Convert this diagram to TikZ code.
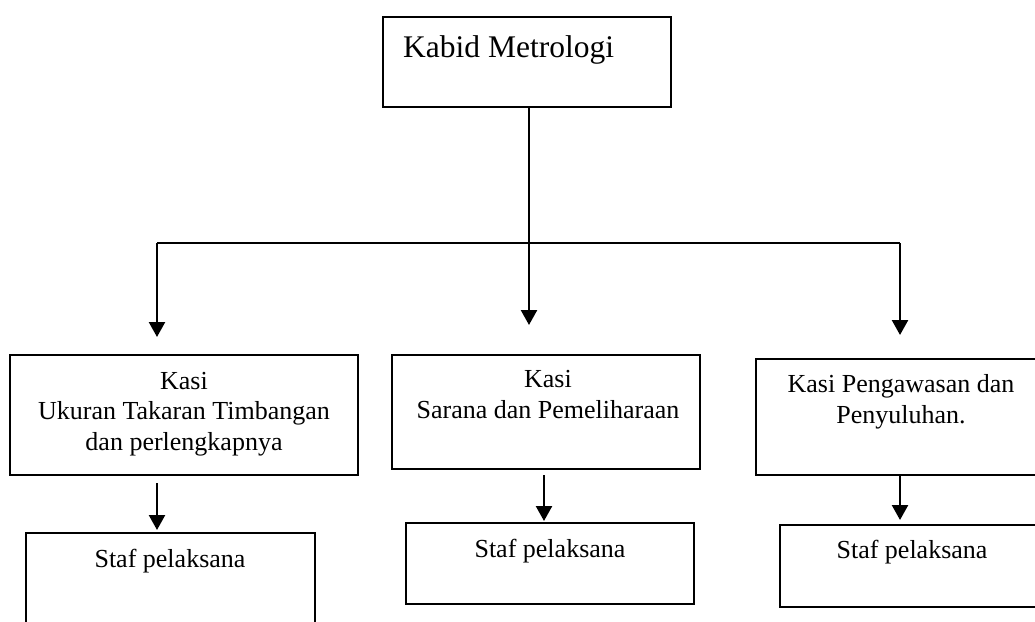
\documentclass[tikz,border=0pt]{standalone}
\usepackage{fontspec}
\setmainfont{Liberation Serif}
\usetikzlibrary{arrows.meta,calc}
\begin{document}
\begin{tikzpicture}[x=1pt,y=-1pt,
  box/.style={draw=black, line width=2pt, inner sep=0pt, outer sep=0pt, anchor=north west},
  lbl/.style={anchor=base, align=center, inner sep=0pt, font=\fontsize{26}{30.5}\selectfont},
  conn/.style={line width=2.4pt},
  arr/.style={line width=2.4pt, -{Triangle[length=15pt,width=16pt]}}]
\useasboundingbox (0,0) rectangle (1035,621);
\clip (0,0) rectangle (1035,621);
% boxes
\node[box, minimum width=288pt, minimum height=90pt] (top) at (383,17) {};
\node[box, minimum width=348pt, minimum height=120pt] (kasiL) at (10,355) {};
\node[box, minimum width=308pt, minimum height=114pt] (kasiM) at (392,355) {};
\node[box, minimum width=300pt, minimum height=116pt] (kasiR) at (756,359) {};
\node[box, minimum width=289pt, minimum height=110pt] (stafL) at (26,533) {};
\node[box, minimum width=288pt, minimum height=81pt] (stafM) at (406,523) {};
\node[box, minimum width=280pt, minimum height=82pt] (stafR) at (780,525) {};
% texts (base anchor = baseline of the last line)
\node[anchor=base west, inner sep=0pt, font=\fontsize{31.5}{36}\selectfont] (tTop) at (403,57) {Kabid Metrologi};
\node[lbl] (tKL) at (184,450) {Kasi\\Ukuran Takaran Timbangan\\dan perlengkapnya};
\node[lbl] (tKM) at (548,418) {Kasi\\Sarana dan Pemeliharaan};
\node[lbl] (tKR) at (901,423) {Kasi Pengawasan dan\\Penyuluhan.};
\node[lbl] (tSL) at (170,567) {Staf pelaksana};
\node[lbl] (tSM) at (550,557) {Staf pelaksana};
\node[lbl] (tSR) at (912,558) {Staf pelaksana};
% connectors
\coordinate (hL) at (157,243);
\coordinate (hM) at (529,243);
\coordinate (hR) at (900,243);
\draw[conn] (top.south -| hM) -- (hM);
\draw[conn] (hL) -- (hR);
\draw[arr, shorten >=18pt] (hL) -- (hL |- kasiL.north);
\draw[arr, shorten >=30pt] (hM) -- (hM |- kasiM.north);
\draw[arr, shorten >=24pt] (hR) -- (hR |- kasiR.north);
\draw[arr, shorten <=8pt, shorten >=3pt] (hL |- kasiL.south) -- (hL |- stafL.north);
\draw[arr, shorten <=6pt, shorten >=2pt] ($(kasiM.south west)+(152,0)$) -- ($(stafM.north west)+(138,0)$);
\draw[arr, shorten >=5pt] (hR |- kasiR.south) -- (hR |- stafR.north);
\end{tikzpicture}
\end{document}
